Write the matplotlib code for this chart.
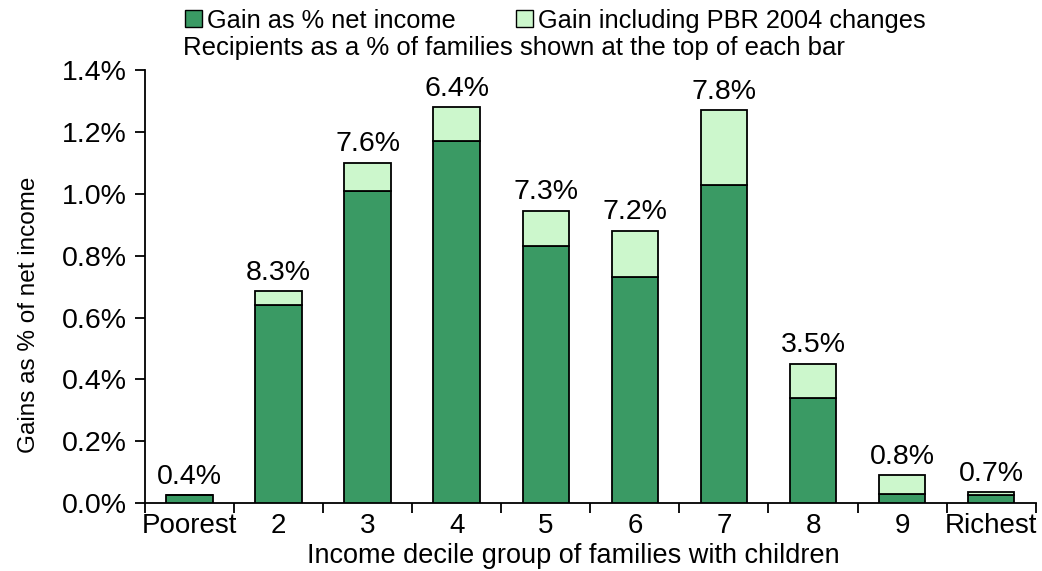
import matplotlib.pyplot as plt
from matplotlib.patches import Patch

plt.rcParams['font.family'] = ['Liberation Sans', 'DejaVu Sans']

deciles = ['Poorest', '2', '3', '4', '5', '6', '7', '8', '9', 'Richest']
gain_net = [0.025, 0.64, 1.01, 1.17, 0.83, 0.73, 1.03, 0.34, 0.03, 0.025]
gain_pbr = [0.025, 0.685, 1.10, 1.28, 0.945, 0.88, 1.27, 0.45, 0.09, 0.035]
recipients = ['0.4%', '8.3%', '7.6%', '6.4%', '7.3%', '7.2%', '7.8%', '3.5%', '0.8%', '0.7%']

dark = '#3a9a64'
light = '#ccf7cc'

fig = plt.figure(figsize=(10.42, 5.71), dpi=100)
ax = fig.add_axes([0.139, 0.119, 0.855, 0.758])

x = list(range(len(deciles)))
extra = [t - g for t, g in zip(gain_pbr, gain_net)]
ax.bar(x, gain_net, width=0.52, color=dark, edgecolor='black', linewidth=1.3, zorder=3)
ax.bar(x, extra, bottom=gain_net, width=0.52, color=light, edgecolor='black', linewidth=1.3, zorder=3)

for xi, top, lab in zip(x, gain_pbr, recipients):
    ax.text(xi, top + 0.018, lab, ha='center', va='bottom', fontsize=20.5)

ax.set_xlim(-0.5, len(deciles) - 0.5)
ax.set_ylim(0, 1.4)
ax.set_yticks([i * 0.2 for i in range(8)])
ax.set_yticklabels(['%.1f%%' % (i * 0.2) for i in range(8)], fontsize=20.5)
ax.set_xticks(x)
ax.set_xticklabels(deciles, fontsize=20)
ax.tick_params(axis='x', length=0, pad=7)
# boundary ticks between categories
ax.set_xticks([i - 0.5 for i in range(len(deciles) + 1)], minor=True)
ax.tick_params(axis='x', which='minor', length=7, width=1.3, direction='out')
ax.tick_params(axis='y', length=7, width=1.3, direction='out', pad=6)

for s in ['top', 'right']:
    ax.spines[s].set_visible(False)
for s in ['left', 'bottom']:
    ax.spines[s].set_linewidth(1.3)

ax.set_ylabel('Gains as % of net income', fontsize=17.5)
ax.yaxis.set_label_coords(-0.118, 0.434)
fig.text(0.55, 0.004, 'Income decile group of families with children', ha='center', va='bottom', fontsize=19.5)

handles = [Patch(facecolor=dark, edgecolor='black'), Patch(facecolor=light, edgecolor='black')]
fig.legend(handles, ['Gain as % net income', 'Gain including PBR 2004 changes'],
           loc='upper center', bbox_to_anchor=(0.533, 1.025), ncol=2, frameon=False,
           fontsize=18.3, handlelength=0.65, handleheight=0.65, handletextpad=0.2, columnspacing=2.4)
fig.text(0.176, 0.916, 'Recipients as a % of families shown at the top of each bar', fontsize=18.5, va='center')

fig.savefig('out.png', dpi=100)
